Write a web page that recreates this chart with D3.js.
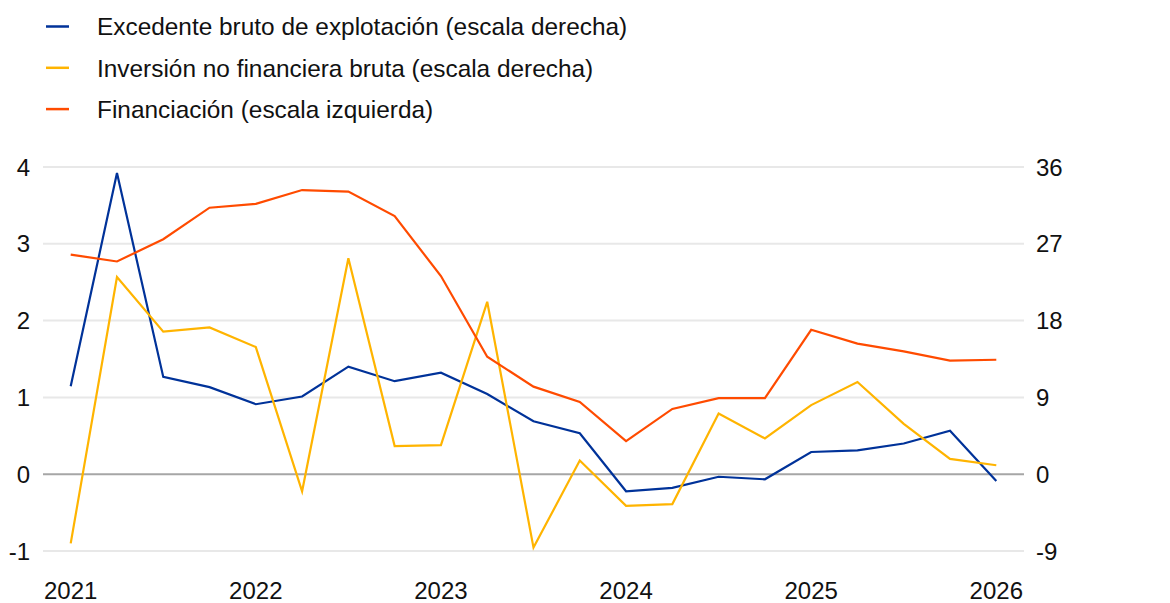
<!DOCTYPE html>
<html><head><meta charset="utf-8">
<script src="https://cdn.jsdelivr.net/npm/d3@7"></script>
<style>
body{margin:0;background:#fff;}
svg{display:block;font-family:"Liberation Sans",Arial,sans-serif;}
</style></head>
<body><svg id="c" width="1170" height="603"></svg>
<script>
const quarters = ["2021Q1","2021Q2","2021Q3","2021Q4","2022Q1","2022Q2","2022Q3","2022Q4","2023Q1","2023Q2","2023Q3","2023Q4","2024Q1","2024Q2","2024Q3","2024Q4","2025Q1","2025Q2","2025Q3","2025Q4","2026Q1"];
const yearLabels = ["2021","2022","2023","2024","2025","2026"];
// right scale
const excedente = [10.3,35.3,11.4,10.2,8.2,9.1,12.6,10.9,11.9,9.4,6.2,4.8,-2.0,-1.6,-0.3,-0.6,2.6,2.8,3.6,5.1,-0.8];
const inversion = [-8.1,23.1,16.7,17.2,14.9,-2.0,25.3,3.3,3.4,20.2,-8.6,1.6,-3.7,-3.5,7.1,4.2,8.1,10.8,5.9,1.8,1.05];
// left scale
const financiacion = [2.86,2.77,3.06,3.47,3.52,3.70,3.68,3.36,2.58,1.53,1.14,0.94,0.43,0.85,0.99,0.99,1.88,1.70,1.60,1.48,1.49];
const leftTicks = [-1,0,1,2,3,4];
const rightTicks = [-9,0,9,18,27,36];
const seriesNames = ["Excedente bruto de explotación (escala derecha)","Inversión no financiera bruta (escala derecha)","Financiación (escala izquierda)"];
const colors = ["#003299","#ffb400","#ff4b00"];

const svg = d3.select("#c");
const gridX0 = 43, gridX1 = 1024;
const x = d3.scalePoint().domain(quarters).range([70.7,996.3]);
const yL = d3.scaleLinear().domain([-1,4]).range([551,167]);
const yR = d3.scaleLinear().domain([-9,36]).range([551,167]);

// grid
svg.append("g").selectAll("line").data(leftTicks).join("line")
  .attr("x1",gridX0).attr("x2",gridX1)
  .attr("y1",d=>yL(d)).attr("y2",d=>yL(d))
  .attr("stroke",d=>d===0?"#a6a6a6":"#e8e8e8")
  .attr("stroke-width",2);

// left axis labels
const fs = 24;
svg.append("g").selectAll("text").data(leftTicks).join("text")
  .attr("x",30).attr("y",d=>yL(d)).attr("dy","0.36em")
  .attr("text-anchor","end").attr("font-size",fs).attr("fill","#111")
  .text(d=>d);
// right axis labels
svg.append("g").selectAll("text").data(rightTicks).join("text")
  .attr("x",1036).attr("y",d=>yR(d)).attr("dy","0.36em")
  .attr("text-anchor","start").attr("font-size",fs).attr("fill","#111")
  .text(d=>d);
// x labels
svg.append("g").selectAll("text").data(yearLabels).join("text")
  .attr("x",d=>x(d+"Q1")).attr("y",599)
  .attr("text-anchor","middle").attr("font-size",fs).attr("fill","#111")
  .text(d=>d);

const lineR = d3.line().x((d,i)=>x(quarters[i])).y(d=>yR(d));
const lineL = d3.line().x((d,i)=>x(quarters[i])).y(d=>yL(d));
svg.append("path").attr("d",lineR(excedente)).attr("fill","none").attr("stroke",colors[0]).attr("stroke-width",2.2);
svg.append("path").attr("d",lineR(inversion)).attr("fill","none").attr("stroke",colors[1]).attr("stroke-width",2.2);
svg.append("path").attr("d",lineL(financiacion)).attr("fill","none").attr("stroke",colors[2]).attr("stroke-width",2.2);

// legend
const leg = svg.append("g").selectAll("g").data(seriesNames).join("g")
  .attr("transform",(d,i)=>`translate(0,${26.5+i*41.3})`);
leg.append("line").attr("x1",46).attr("x2",69).attr("y1",0).attr("y2",0)
  .attr("stroke",(d,i)=>colors[i]).attr("stroke-width",2.5);
leg.append("text").attr("x",97).attr("y",0).attr("dy","0.36em")
  .attr("font-size",24.4).attr("fill","#111").text(d=>d);
</script></body></html>
